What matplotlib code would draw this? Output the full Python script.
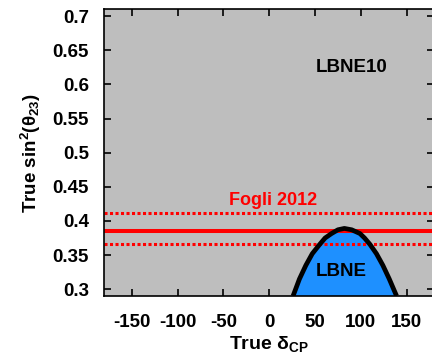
"""Recreate the LBNE sin^2(theta23) vs delta_CP sensitivity plot."""

import matplotlib

matplotlib.use("Agg")
import matplotlib.pyplot as plt

# --- data ---
delta_ticks = [-150, -100, -50, 0, 50, 100, 150]
s23_ticks = [0.3, 0.35, 0.4, 0.45, 0.5, 0.55, 0.6, 0.65, 0.7]

# LBNE region boundary (delta_CP, sin^2 theta23)
lbne_delta = [26, 33, 40, 47, 55, 61, 68, 75, 82, 90, 99, 104, 110, 117, 124, 131, 139]
lbne_s23 = [0.29, 0.315, 0.335, 0.352, 0.3655, 0.375, 0.3815, 0.387, 0.389,
            0.387, 0.3815, 0.375, 0.3655, 0.352, 0.335, 0.315, 0.29]

fogli_central = 0.3855
fogli_band = [0.3655, 0.411]

plt.rcParams["font.family"] = ["Liberation Sans", "DejaVu Sans"]
plt.rcParams["font.weight"] = "bold"
plt.rcParams["mathtext.fontset"] = "custom"
plt.rcParams["mathtext.rm"] = "Liberation Sans:bold"
plt.rcParams["mathtext.bf"] = "Liberation Sans:bold"
plt.rcParams["mathtext.it"] = "Liberation Sans:bold"

fig = plt.figure(figsize=(4.32, 3.64), dpi=100)
ax = fig.add_axes([0.2414, 0.1868, 1.005 - 0.2414, 0.9745 - 0.1868])
ax.set_facecolor("#bebebe")

ax.fill(lbne_delta, lbne_s23, color="#1e90ff", zorder=2, lw=0)
ax.plot(lbne_delta, lbne_s23, color="black", lw=3.4, zorder=4,
        solid_capstyle="butt")

ax.axhline(fogli_central, color="#ff0000", lw=2.9, zorder=3)
for y in fogli_band:
    ax.axhline(y, color="#ff0000", lw=2.2, linestyle=(0, (1, 0.8)),
               dash_capstyle="butt", zorder=3)

ax.text(90, 0.625, "LBNE10", fontsize=13.5, fontweight="bold", ha="center",
        va="center", color="black")
ax.text(4.6, 0.430, "Fogli 2012", fontsize=13, fontweight="bold",
        ha="center", va="center", color="#ff0000")
ax.text(79, 0.326, "LBNE", fontsize=13.5, fontweight="bold", ha="center",
        va="center", color="black", zorder=5)

ax.set_xlim(-180, 180)
ax.set_ylim(0.29, 0.71)
ax.set_xticks(delta_ticks)
ax.set_xticklabels([str(v) for v in delta_ticks])
ax.set_yticks(s23_ticks)
ax.set_yticklabels([f"{v:g}" for v in s23_ticks])
ax.tick_params(direction="in", length=5, width=1.2, top=True, right=True,
               labelsize=13.5)
ax.tick_params(axis="y", pad=11)
ax.tick_params(axis="x", pad=13)
for sp in ax.spines.values():
    sp.set_linewidth(1.2)
    sp.set_zorder(6)

ax.set_xlabel(r"True δ$_{\mathbf{CP}}$", fontsize=14, fontweight="bold",
              labelpad=2)
ax.set_ylabel(r"True sin$^{\mathbf{2}}$(θ$_{\mathbf{23}}$)", fontsize=13.5,
              fontweight="bold", labelpad=7)

fig.savefig("out.png", dpi=100)
